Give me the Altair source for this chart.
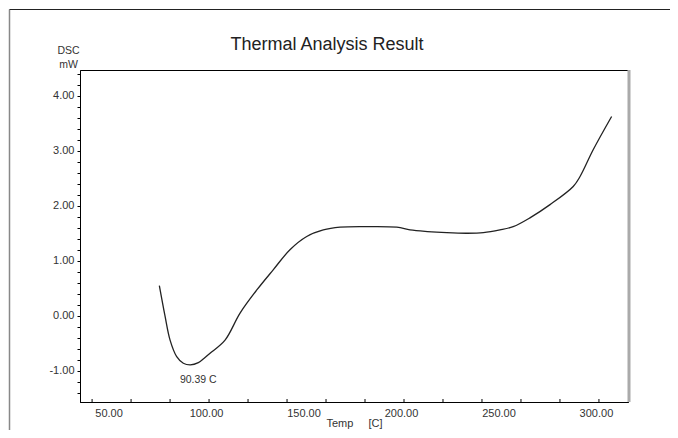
import altair as alt
import pandas as pd

# ---- data ----
temp = [74.5, 77.4, 80.0, 83.4, 86.8, 90.4, 94.5, 97.5, 100.5, 108.2, 115.9, 124.5,
        133.0, 141.5, 150.1, 158.6, 167.2, 180.0, 196.3, 203.1, 212.0, 221.9,
        232.0, 240.7, 249.2, 256.0, 264.6, 274.9, 286.8, 290.3, 297.1, 306.5]
dsc = [0.55, 0.00, -0.44, -0.74, -0.86, -0.89, -0.85, -0.77, -0.68, -0.44, 0.05, 0.47,
       0.84, 1.20, 1.44, 1.56, 1.61, 1.62, 1.61, 1.56, 1.53, 1.51,
       1.50, 1.51, 1.56, 1.62, 1.78, 2.02, 2.35, 2.53, 3.02, 3.62]
peak_temp = [90.39]
peak_dsc = [-0.89]
peak_label = ["90.39 C"]
chart_title = ["Thermal Analysis Result"]
x_minor_ticks = list(range(40, 301, 20))
x_label_values = [50, 100, 150, 200, 250, 300]
y_tick_values = [round(-1.4 + 0.2 * i, 1) for i in range(30)]
x_domain = [33.8, 314.9]
y_domain = [-1.564, 4.464]

W, H = 548, 332
FONT = "Liberation Sans"

df = pd.DataFrame({"temp": temp, "dsc": dsc})
peak_df = pd.DataFrame({"temp": peak_temp, "dsc": peak_dsc, "label": peak_label})
tick_df = pd.DataFrame({"temp": x_minor_ticks})
title_df = pd.DataFrame({"t": chart_title})
one = pd.DataFrame({"k": [0]})

xs = alt.Scale(domain=x_domain, nice=False, zero=False)
ys = alt.Scale(domain=y_domain, nice=False, zero=False)

x_axis = alt.Axis(values=x_label_values, format=".2f", ticks=False, grid=False,
                  domainColor="black", labelFontSize=11, labelColor="#333",
                  labelPadding=5, labelOffset=-3, labelFlush=False, labelOverlap=False,
                  tickCount=20,
                  title="Temp\u00a0\u00a0\u00a0\u00a0\u00a0[C]", titleFontSize=11,
                  titleFontWeight="normal", titleColor="#333", titleY=21,
                  titleBaseline="middle")
y_axis = alt.Axis(values=y_tick_values, tickCount=60,
                  labelExpr="abs(datum.value - round(datum.value)) < 0.001 ? replace(format(datum.value, '.2f'), '\u2212', '-') : ''",
                  tickSize=3, tickColor="black", domainColor="black", grid=False,
                  labelFontSize=11, labelColor="#333", labelPadding=3,
                  labelOverlap=False, labelFlush=False,
                  title=["DSC", "mW"], titleAngle=0, titleX=-12, titleY=-20,
                  titleAlign="center", titleBaseline="middle", titleFontSize=10.5,
                  titleFontWeight="normal", titleColor="#333", titleLineHeight=14)

line = alt.Chart(df).mark_line(color="#222", strokeWidth=1.3, interpolate="catmull-rom").encode(
    x=alt.X("temp:Q", scale=xs, axis=x_axis),
    y=alt.Y("dsc:Q", scale=ys, axis=y_axis),
)

xticks = alt.Chart(tick_df).mark_rule(color="black", strokeWidth=1).encode(
    x=alt.X("temp:Q", scale=xs),
    y=alt.value(H),
    y2=alt.value(H - 3),
)

peak = alt.Chart(peak_df).mark_text(font=FONT, fontSize=10.5, color="#333", dx=8, dy=15).encode(
    x=alt.X("temp:Q", scale=xs),
    y=alt.Y("dsc:Q", scale=ys),
    text="label:N",
)

title = alt.Chart(title_df).mark_text(font=FONT, fontSize=18, color="#222",
                                      align="center", baseline="middle").encode(
    x=alt.value(247), y=alt.value(-25.5), text="t:N"
)

right_edge = alt.Chart(one).mark_rule(color="#aaa", strokeWidth=3).encode(
    x=alt.value(W + 1), y=alt.value(0), y2=alt.value(H)
)
outer_left = alt.Chart(one).mark_rule(color="#888", strokeWidth=1.5).encode(
    x=alt.value(-70.5), y=alt.value(-60.5), y2=alt.value(H + 30)
)
outer_top = alt.Chart(one).mark_rule(color="#222", strokeWidth=1).encode(
    x=alt.value(-70.5), x2=alt.value(W + 42), y=alt.value(-60.5)
)

chart = alt.layer(line, xticks, peak, title, right_edge, outer_left, outer_top).properties(
    width=W, height=H,
    autosize=alt.AutoSizeParams(type="none"),
    padding={"left": 72, "top": 62, "right": 42, "bottom": 28},
    background="white",
).configure_view(stroke="black", strokeWidth=1).configure_axis(
    labelFont=FONT, titleFont=FONT
)

chart.save("out.html", embed_options={"renderer": "svg", "actions": False})
